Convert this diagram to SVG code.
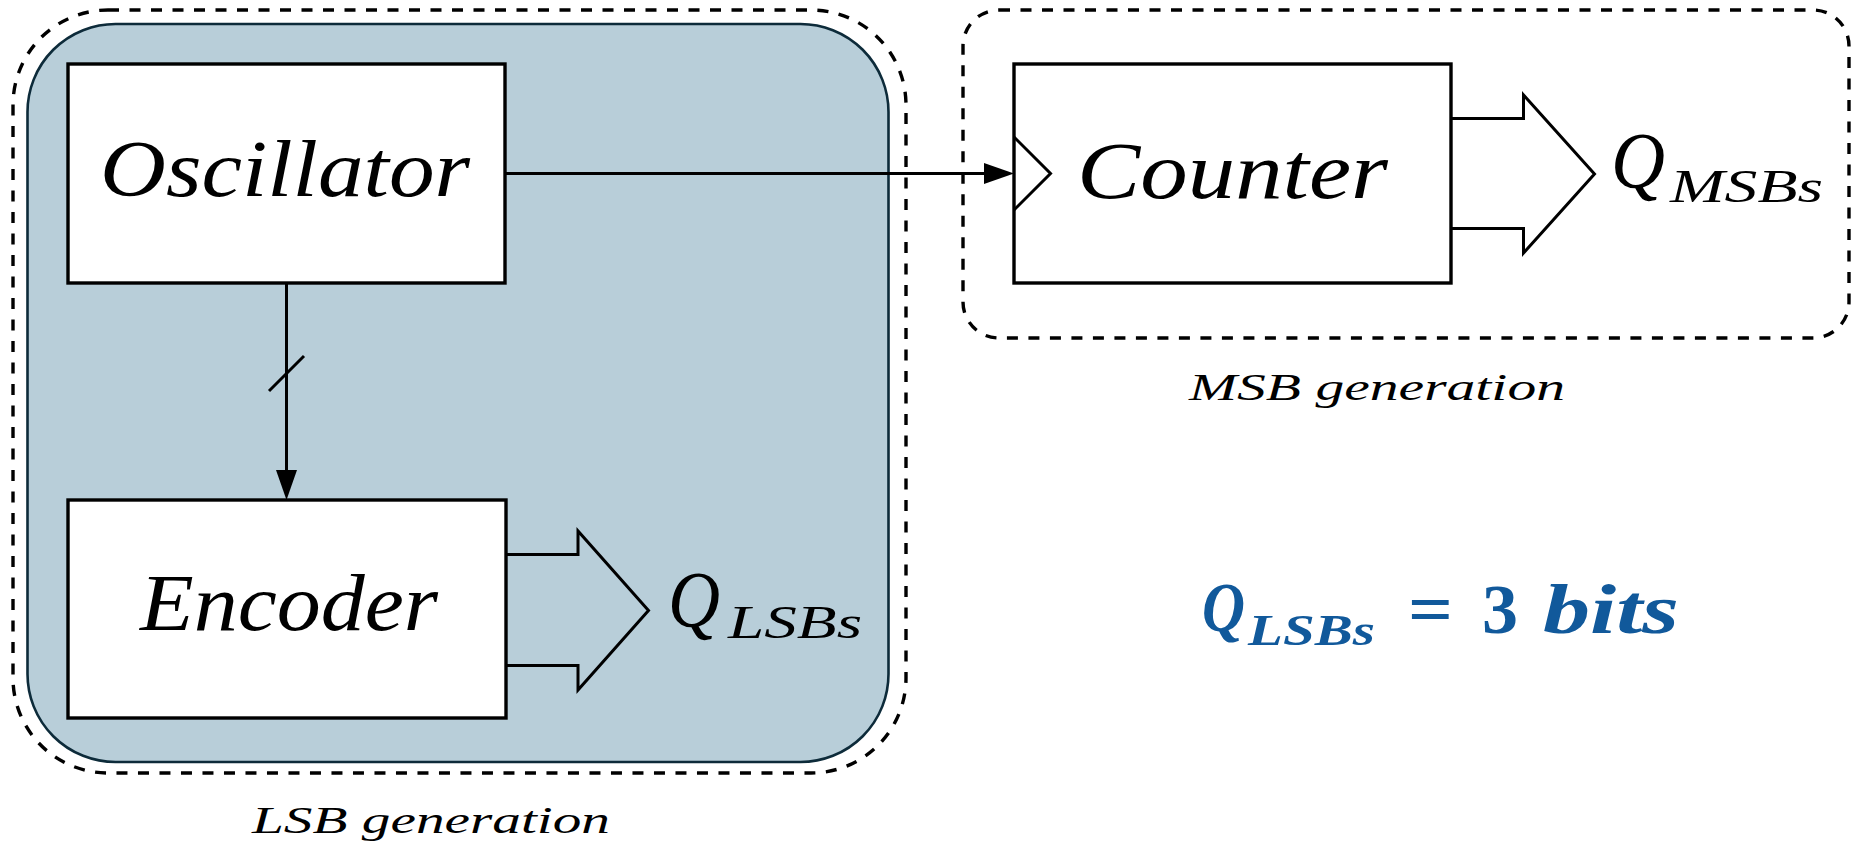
<svg xmlns="http://www.w3.org/2000/svg" width="1852" height="852" viewBox="0 0 1852 852">
  <style>
    .bg { fill: #ffffff; }
    .region { fill: none; stroke: #000000; stroke-width: 3.4; stroke-dasharray: 11 10.5; }
    .lsbfill { fill: #b8ced9; stroke: #0d2b3a; stroke-width: 2.6; }
    .block { fill: #ffffff; stroke: #000000; stroke-width: 3.4; }
    .wire { fill: none; stroke: #000000; stroke-width: 3; }
    .bus { fill: none; stroke: #000000; stroke-width: 3; stroke-linejoin: miter; }
    .head { fill: #000000; stroke: none; }
    .math { font-style: italic; fill: #000000; }
    .big { font-size: 80px; }
    .sub { font-size: 46px; }
    .cap { font-size: 37px; }
    .note { font-weight: bold; fill: #11599b; }
  </style>

  <rect class="bg" x="0" y="0" width="1852" height="852"/>

  <g font-family="'Liberation Serif', 'Times New Roman', Times, 'DejaVu Serif', serif">

  <!-- LSB generation region -->
  <g id="lsb-region">
    <rect class="region" x="13" y="10" width="893" height="763" rx="95" ry="95"/>
    <rect class="lsbfill" x="27.5" y="24" width="861" height="738" rx="88" ry="88"/>
    <text class="math cap" x="252" y="833" textLength="358" lengthAdjust="spacingAndGlyphs">LSB generation</text>
  </g>

  <!-- MSB generation region -->
  <g id="msb-region">
    <rect class="region" x="963" y="10" width="886" height="328" rx="36" ry="36"/>
    <text class="math cap" x="1189" y="400" textLength="376" lengthAdjust="spacingAndGlyphs">MSB generation</text>
  </g>

  <!-- Connectors -->
  <g id="connectors">
    <!-- oscillator to counter clock -->
    <line class="wire" x1="505" y1="173.5" x2="986" y2="173.5"/>
    <polygon class="head" points="984,163 1014,173.5 984,184"/>
    <!-- oscillator phases to encoder (bus) -->
    <line class="wire" x1="286.5" y1="283" x2="286.5" y2="472"/>
    <line class="wire" x1="269" y1="391" x2="304" y2="356"/>
    <polygon class="head" points="276,470 297,470 286.5,500"/>
    <!-- encoder output bus -->
    <polyline class="bus" points="506,554.5 578,554.5 578,531 648.5,610.5 578,690 578,665.5 506,665.5"/>
    <!-- counter output bus -->
    <polyline class="bus" points="1451,118.5 1523.5,118.5 1523.5,95 1594.5,174 1523.5,253 1523.5,228.5 1451,228.5"/>
  </g>

  <!-- Oscillator -->
  <g id="oscillator">
    <rect class="block" x="68" y="64" width="437" height="219"/>
    <text class="math big" x="100" y="196" textLength="370" lengthAdjust="spacingAndGlyphs">Oscillator</text>
  </g>

  <!-- Encoder -->
  <g id="encoder">
    <rect class="block" x="68" y="500" width="438" height="218"/>
    <text class="math big" x="140" y="630" textLength="298" lengthAdjust="spacingAndGlyphs">Encoder</text>
  </g>

  <!-- Counter -->
  <g id="counter">
    <rect class="block" x="1014" y="64" width="437" height="219"/>
    <polyline class="wire" points="1014,137 1050.5,173.5 1014,210"/>
    <text class="math big" x="1077" y="198" textLength="311" lengthAdjust="spacingAndGlyphs">Counter</text>
  </g>

  <!-- Output labels -->
  <g id="q-lsbs">
    <text class="math big" x="668" y="627" textLength="52" lengthAdjust="spacingAndGlyphs">Q</text>
    <text class="math sub" x="728" y="638" textLength="134" lengthAdjust="spacingAndGlyphs">LSBs</text>
  </g>
  <g id="q-msbs">
    <text class="math big" x="1611" y="188" textLength="54" lengthAdjust="spacingAndGlyphs">Q</text>
    <text class="math sub" x="1670" y="202" textLength="153" lengthAdjust="spacingAndGlyphs">MSBs</text>
  </g>

  <!-- Resolution note -->
  <g id="resolution">
    <text class="note" font-style="italic" font-size="70" x="1202" y="631" textLength="43" lengthAdjust="spacingAndGlyphs">Q</text>
    <text class="note" font-style="italic" font-size="44" x="1248" y="645" textLength="127" lengthAdjust="spacingAndGlyphs">LSBs</text>
    <text class="note" font-size="70" x="1408" y="633" textLength="45" lengthAdjust="spacingAndGlyphs">=</text>
    <text class="note" font-size="70" x="1482" y="633" textLength="36" lengthAdjust="spacingAndGlyphs">3</text>
    <text class="note" font-style="italic" font-size="70" x="1543" y="633" textLength="136" lengthAdjust="spacingAndGlyphs">bits</text>
  </g>

  </g>
</svg>
